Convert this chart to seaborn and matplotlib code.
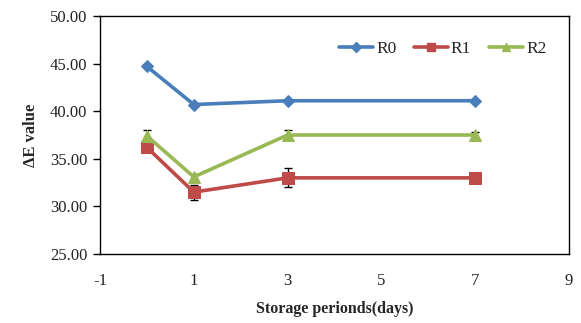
import matplotlib
matplotlib.use("Agg")
import matplotlib.pyplot as plt
import seaborn as sns
import pandas as pd
from matplotlib.lines import Line2D

# Storage days and measured colour difference for each treatment
days = [0, 1, 3, 7]
series_names = ["R0", "R1", "R2"]
r0_values = [44.7, 40.7, 41.1, 41.1]
r1_values = [36.2, 31.5, 33.0, 33.0]
r2_values = [37.4, 33.1, 37.5, 37.5]
r0_err = [0.1, 0.1, 0.1, 0.1]
r1_err = [0.5, 0.8, 1.0, 0.3]
r2_err = [0.6, 0.3, 0.5, 0.3]

x_ticks = [-1, 1, 3, 5, 7, 9]
y_ticks = [25, 30, 35, 40, 45, 50]

colors = {"R0": "#4A7EBB", "R1": "#BE4B48", "R2": "#98B954"}
markers = {"R0": "D", "R1": "s", "R2": "^"}
marker_sizes = {"R0": 6, "R1": 8, "R2": 8}

values = {"R0": r0_values, "R1": r1_values, "R2": r2_values}
errors = {"R0": r0_err, "R1": r1_err, "R2": r2_err}

df = pd.DataFrame({
    "day": days * 3,
    "value": r0_values + r1_values + r2_values,
    "series": [s for s in series_names for _ in days],
})

sns.set_style("white")
plt.rcParams["font.family"] = ["Liberation Serif", "DejaVu Serif"]
plt.rcParams["axes.unicode_minus"] = False

fig = plt.figure(figsize=(5.81, 3.23), dpi=100)
ax = fig.add_axes([100 / 581, 1 - 254 / 323, 469 / 581, 238 / 323])

for name in series_names:
    ax.errorbar(days, values[name], yerr=errors[name], fmt="none",
                ecolor="black", elinewidth=1, capsize=3, capthick=1, zorder=2)

sns.lineplot(data=df, x="day", y="value", hue="series", style="series",
             palette=colors, markers=markers, dashes=False, linewidth=2.6,
             ax=ax, legend=False, zorder=3)

for line, name in zip(ax.lines[-3:], series_names):
    line.set_markersize(marker_sizes[name])
    line.set_markeredgecolor(colors[name])

# legend entries
handles = [Line2D([0], [0], color=colors[n], marker=markers[n], lw=2.6,
                  markersize=marker_sizes[n] * 0.8, markeredgecolor=colors[n])
           for n in series_names]
ax.legend(handles, series_names, loc="upper right", ncol=3, frameon=False,
          bbox_to_anchor=(0.985, 0.96), fontsize=12.5, handlelength=2.0,
          handletextpad=0.15, columnspacing=1.0)

ax.set_xlim(-1, 9)
ax.set_ylim(25, 50)
ax.set_xticks(x_ticks)
ax.set_yticks(y_ticks)
ax.set_yticklabels([f"{v:.2f}" for v in y_ticks])
ax.tick_params(axis="y", direction="out", length=5, width=1, color="black",
               labelsize=12, pad=4, left=True, labelcolor="#222222")
ax.tick_params(axis="x", length=0, labelsize=12, pad=14, labelcolor="#222222")

for spine in ax.spines.values():
    spine.set_color("black")
    spine.set_linewidth(1)

ax.set_xlabel("Storage perionds(days)", fontweight="bold", fontsize=11.5, labelpad=8)
ax.set_ylabel("ΔE value", fontweight="bold", fontsize=12, labelpad=8)

fig.savefig("out.png", dpi=100)
